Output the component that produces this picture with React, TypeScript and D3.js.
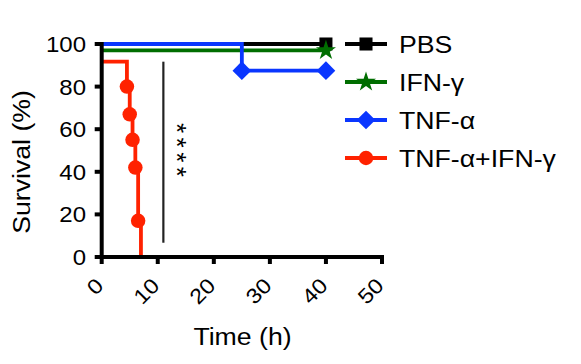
import * as d3 from "d3";

// Kaplan-Meier step points [time (h), survival (%)]
const pbsSteps: [number, number][] = [[0, 100], [40, 100]];
const ifnSteps: [number, number][] = [[0, 97], [40, 97]];
const tnfSteps: [number, number][] = [[0, 100], [25, 100], [25, 87.5], [40, 87.5]];
const comboSteps: [number, number][] = [
  [0, 91.7], [4.5, 91.7], [4.5, 80], [5, 80], [5, 67], [5.5, 67], [5.5, 55],
  [6, 55], [6, 42], [6.5, 42], [6.5, 17], [7, 17], [7, 0],
];

// marker positions
const pbsMarks: [number, number][] = [[40, 100]];
const ifnMarks: [number, number][] = [[40, 97]];
const tnfMarks: [number, number][] = [[25, 87.5], [40, 87.5]];
const comboMarks: [number, number][] = [[4.5, 80], [5, 67], [5.5, 55], [6, 42], [6.5, 17]];

const xTicks = [0, 10, 20, 30, 40, 50];
const yTicks = [0, 20, 40, 60, 80, 100];

const sigBar = { t: 11, from: 91.7, to: 6.7, label: "****" };

const series = [
  { name: "PBS", color: "#000000", steps: pbsSteps, marks: pbsMarks, shape: "square" },
  { name: "IFN-γ", color: "#006e00", steps: ifnSteps, marks: ifnMarks, shape: "star" },
  { name: "TNF-α", color: "#0a36ff", steps: tnfSteps, marks: tnfMarks, shape: "diamond" },
  { name: "TNF-α+IFN-γ", color: "#ff2200", steps: comboSteps, marks: comboMarks, shape: "circle" },
];

const FONT = "Arial, 'Liberation Sans', sans-serif";
// the original lettering is a bit wider than Arial
const WIDE = "scale(1.16,1)";

function markerPath(shape: string) {
  if (shape === "square") return d3.symbol().type(d3.symbolSquare).size(170)()!;
  if (shape === "star") return d3.symbol().type(d3.symbolStar).size(125)()!;
  if (shape === "diamond") return d3.symbol().type(d3.symbolSquare).size(175)()!;
  return d3.symbol().type(d3.symbolCircle).size(165)()!;
}

export default function App() {
  const width = 581;
  const height = 364;
  const x = d3.scaleLinear().domain([0, 50]).range([101.7, 382]);
  const y = d3.scaleLinear().domain([0, 100]).range([257, 44]);
  const line = d3.line<[number, number]>()
    .x((d) => x(d[0]))
    .y((d) => y(d[1]));

  return (
    <div style={{ position: "absolute", left: 0, top: 0 }}>
      <svg width={width} height={height} style={{ display: "block", background: "#fff" }} fontFamily={FONT}>
        {/* curves */}
        {series.map((s) => (
          <g key={s.name}>
            <path d={line(s.steps)!} fill="none" stroke={s.color} strokeWidth={3.8} />
            {s.marks.map((m, i) => (
              <path
                key={i}
                d={markerPath(s.shape)}
                fill={s.color}
                transform={`translate(${x(m[0])},${y(m[1])})${s.shape === "diamond" ? " rotate(45)" : ""}`}
              />
            ))}
          </g>
        ))}

        {/* significance bar */}
        <line x1={x(sigBar.t)} x2={x(sigBar.t)} y1={y(sigBar.from)} y2={y(sigBar.to)} stroke="#222" strokeWidth={2.2} />
        <text
          transform={`translate(${x(sigBar.t) + 4.6},${(y(sigBar.from) + y(sigBar.to)) / 2}) rotate(90)`}
          textAnchor="middle"
          fontSize={26}
          letterSpacing={4.5}
          fill="#000"
        >
          {sigBar.label}
        </text>

        {/* y axis */}
        <line x1={x(0)} x2={x(0)} y1={y(100) - 2} y2={y(0) + 2} stroke="#000" strokeWidth={4} />
        {yTicks.map((t) => (
          <g key={t} transform={`translate(0,${y(t)})`}>
            <line x1={x(0) - 7} x2={x(0)} stroke="#000" strokeWidth={4} />
            <text transform="translate(86,0) scale(1.09,1)" dy="0.36em" textAnchor="end" fontSize={22}>{t}</text>
          </g>
        ))}
        <text transform={`translate(30,162) rotate(-90) ${WIDE}`} textAnchor="middle" fontSize={23}>Survival (%)</text>

        {/* x axis */}
        <line x1={x(0) - 2} x2={x(50) + 2} y1={y(0)} y2={y(0)} stroke="#000" strokeWidth={4} />
        {xTicks.map((t) => (
          <g key={t} transform={`translate(${x(t)},0)`}>
            <line y1={y(0)} y2={y(0) + 7} stroke="#000" strokeWidth={4} />
            <text transform={`translate(3,287) rotate(-45) scale(1.12,1)`} textAnchor="end" fontSize={21}>{t}</text>
          </g>
        ))}
        <text transform={`translate(242.5,345) ${WIDE}`} textAnchor="middle" fontSize={23}>Time (h)</text>

        {/* legend */}
        {series.map((s, i) => {
          const ly = 44 + i * 38;
          return (
            <g key={s.name} transform={`translate(0,${ly})`}>
              <line x1={345} x2={387} stroke={s.color} strokeWidth={4} />
              <path
                d={markerPath(s.shape)}
                fill={s.color}
                transform={`translate(366,0)${s.shape === "diamond" ? " rotate(45)" : ""}`}
              />
              <text transform={`translate(399,0) ${WIDE}`} dy="0.37em" fontSize={23}>{s.name}</text>
            </g>
          );
        })}
      </svg>
    </div>
  );
}
